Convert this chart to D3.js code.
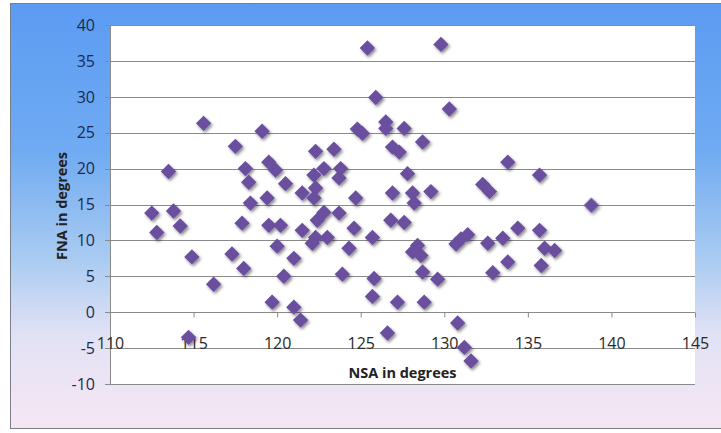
<!DOCTYPE html>
<html>
<head>
<meta charset="utf-8">
<script src="https://cdn.jsdelivr.net/npm/d3@7"></script>
<style>
body { margin: 0; background: #fff; }
</style>
</head>
<body>
<div id="viz"></div>
<script>
var width = 721;
var height = 433;

// NSA (x) and FNA (y) in degrees
var nsa = [112.5, 112.8, 113.8, 113.5, 114.2, 114.9, 114.7, 115.6, 116.2, 117.5,
	117.3, 117.9, 118.0, 118.1, 118.3, 118.4, 119.1, 119.4, 119.5, 119.5,
	119.9, 119.7, 120.2, 120.0, 120.5, 120.4, 121.0, 121.0, 121.4, 121.5,
	121.5, 122.3, 123.4, 122.8, 122.2, 123.8, 123.7, 122.3, 122.2, 124.7,
	122.8, 122.4, 123.7, 124.6, 122.3, 123.0, 122.1, 124.3, 123.9, 124.8,
	125.1, 125.4, 125.9, 125.7, 125.8, 125.7, 126.5, 126.5, 127.6, 126.9,
	127.3, 128.7, 127.8, 126.9, 128.1, 129.2, 128.2, 126.8, 127.6, 128.4,
	128.1, 128.6, 128.7, 129.6, 127.2, 128.8, 126.6, 129.8, 130.3, 130.7,
	131.0, 131.4, 130.8, 131.2, 131.6, 132.3, 132.7, 132.6, 133.5, 132.9,
	133.8, 133.8, 134.4, 135.7, 135.7, 136.0, 136.6, 135.8, 138.8];
var fna = [13.8, 11.1, 14.1, 19.6, 12.0, 7.7, -3.5, 26.3, 3.9, 23.1,
	8.1, 12.4, 6.1, 20.0, 18.1, 15.2, 25.2, 15.9, 12.1, 20.9,
	19.8, 1.4, 12.1, 9.2, 17.9, 5.0, 7.5, 0.7, -1.1, 16.6,
	11.4, 22.4, 22.7, 20.0, 19.1, 20.0, 18.7, 17.3, 15.9, 15.9,
	13.9, 12.8, 13.8, 11.7, 10.4, 10.4, 9.6, 8.9, 5.3, 25.5,
	24.9, 36.8, 29.9, 10.4, 4.7, 2.2, 26.5, 25.6, 25.6, 23.0,
	22.3, 23.7, 19.3, 16.6, 16.6, 16.8, 15.2, 12.8, 12.5, 9.3,
	8.4, 7.9, 5.6, 4.6, 1.4, 1.4, -2.9, 37.3, 28.3, 9.5,
	10.2, 10.8, -1.5, -4.9, -6.8, 17.8, 16.8, 9.6, 10.3, 5.5,
	7.0, 20.9, 11.7, 11.4, 19.1, 8.9, 8.6, 6.5, 14.9];

var xTicks = [110, 115, 120, 125, 130, 135, 140, 145];
var yTicks = [-10, -5, 0, 5, 10, 15, 20, 25, 30, 35, 40];

var xTitle = "NSA in degrees";
var yTitle = "FNA in degrees";

var points = nsa.map(function(d, i) { return {nsa: d, fna: fna[i]}; });

var plot = {left: 110, right: 695, top: 25, bottom: 384};

var x = d3.scaleLinear()
	.domain([110, 145])
	.range([plot.left, plot.right]);

var y = d3.scaleLinear()
	.domain([-10, 40])
	.range([plot.bottom, plot.top]);

var svg = d3.select("#viz").append("svg")
	.attr("width", width)
	.attr("height", height);

var defs = svg.append("defs");

var bg = defs.append("linearGradient")
	.attr("id", "bg")
	.attr("x1", 0).attr("y1", 0)
	.attr("x2", 0).attr("y2", 1);
bg.append("stop").attr("offset", 0).attr("stop-color", "#5b9bf2");
bg.append("stop").attr("offset", 0.35).attr("stop-color", "#70abf2");
bg.append("stop").attr("offset", 0.6).attr("stop-color", "#a9cbf1");
bg.append("stop").attr("offset", 0.78).attr("stop-color", "#e2e2f5");
bg.append("stop").attr("offset", 1).attr("stop-color", "#f6e6f4");

var shadow = defs.append("filter")
	.attr("id", "shadow")
	.attr("x", "-50%").attr("y", "-50%")
	.attr("width", "200%").attr("height", "200%");
shadow.append("feDropShadow")
	.attr("dx", 1.5).attr("dy", 2)
	.attr("stdDeviation", 1.6)
	.attr("flood-color", "#000")
	.attr("flood-opacity", 0.45);

// chart area
svg.append("rect")
	.attr("x", 10.5)
	.attr("y", 3.5)
	.attr("width", width)
	.attr("height", 425)
	.style("fill", "url(#bg)")
	.style("stroke", "#7a7f8a")
	.style("stroke-width", 1);

svg.append("rect")
	.attr("x", plot.left)
	.attr("y", plot.top)
	.attr("width", plot.right - plot.left)
	.attr("height", plot.bottom - plot.top)
	.style("fill", "#fff");

// gridlines
svg.append("g")
	.selectAll("line")
	.data(yTicks)
	.enter().append("line")
		.attr("x1", plot.left - 5)
		.attr("x2", plot.right)
		.attr("y1", function(d) { return Math.round(y(d)) + 0.5; })
		.attr("y2", function(d) { return Math.round(y(d)) + 0.5; })
		.style("stroke", "#8a8a8a")
		.style("stroke-width", 1.2);

svg.append("line")
	.attr("x1", plot.left + 0.5)
	.attr("x2", plot.left + 0.5)
	.attr("y1", plot.top)
	.attr("y2", plot.bottom)
	.style("stroke", "#8a8a8a");

// y tick labels
svg.append("g")
	.selectAll("text")
	.data(yTicks)
	.enter().append("text")
		.attr("x", 95)
		.attr("y", function(d) { return y(d); })
		.attr("dy", "0.36em")
		.attr("text-anchor", "end")
		.style("font-family", "'Open Sans', sans-serif")
		.style("font-size", "16px")
		.style("fill", "#1c2a52")
		.text(function(d) { return d; });

// x axis sits at FNA = 0
var xAxis = d3.axisBottom(x)
	.tickValues(xTicks)
	.tickSize(5)
	.tickPadding(20);

var gx = svg.append("g")
	.attr("transform", "translate(0," + (Math.round(y(0)) + 0.5) + ")")
	.call(xAxis);

gx.select(".domain").remove();
gx.selectAll("line").style("stroke", "#8a8a8a");
gx.selectAll("text")
	.style("font-family", "'Open Sans', sans-serif")
	.style("font-size", "16px")
	.style("fill", "#2a2a2a");

// axis titles
svg.append("text")
	.attr("x", (plot.left + plot.right) / 2)
	.attr("y", 378)
	.attr("text-anchor", "middle")
	.style("font-family", "'Open Sans', sans-serif")
	.style("font-weight", "bold")
	.style("font-size", "14.5px")
	.style("fill", "#222")
	.text(xTitle);

svg.append("text")
	.attr("transform", "translate(67," + 206 + ") rotate(-90)")
	.attr("text-anchor", "middle")
	.style("font-family", "'Open Sans', sans-serif")
	.style("font-weight", "bold")
	.style("font-size", "14.5px")
	.style("fill", "#222")
	.text(yTitle);

// diamonds
var diamond = d3.symbol().type(d3.symbolSquare).size(118);

svg.append("g")
	.attr("filter", "url(#shadow)")
	.selectAll("path")
	.data(points)
	.enter().append("path")
		.attr("d", diamond)
		.attr("transform", function(d) {
			return "translate(" + x(d.nsa) + "," + y(d.fna) + ") rotate(45)";
		})
		.style("fill", "#6a4f9e");
</script>
</body>
</html>
